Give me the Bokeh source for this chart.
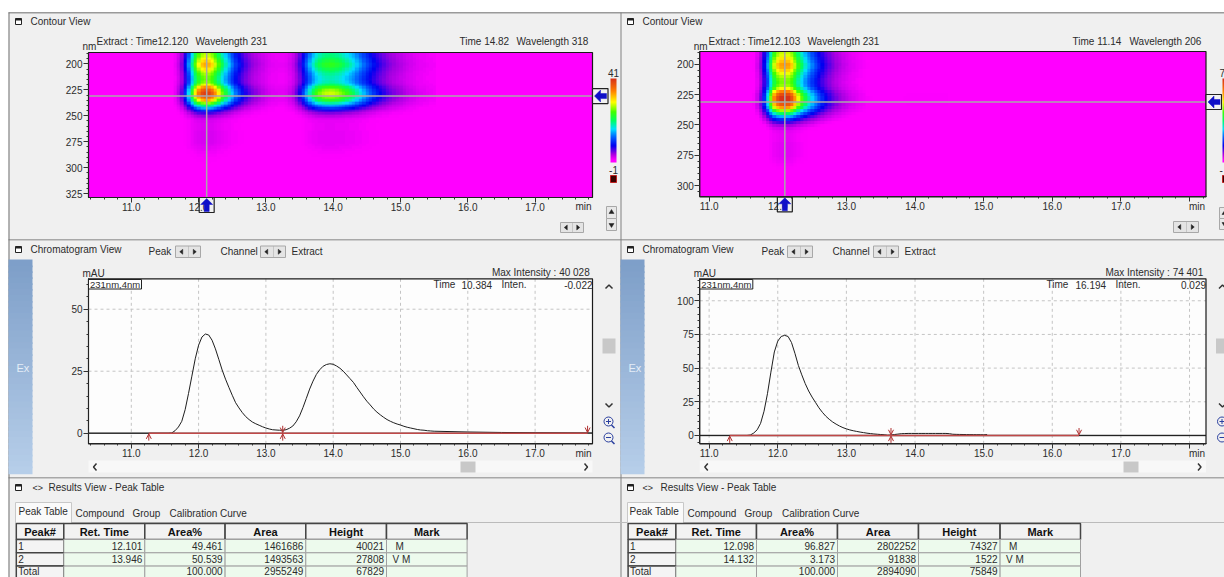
import numpy as np
from bokeh.embed import file_html
from bokeh.resources import INLINE
from bokeh.models import (Arrow, ColorBar, FixedTicker, LinearAxis, LinearColorMapper,
                          NumeralTickFormatter, OpenHead, Range1d)
from bokeh.plotting import figure
from bokeh.core.properties import value

# ---------- data ----------
time_start = 11.55
time_step = 0.05
left_chrom = [0.0, 0.1, 1.0, 2.5, 4.8, 9.5, 16, 23, 30, 35.5, 38.8, 40, 39.6, 37.5, 34, 29.8, 25.5, 21.8,
              18.5, 15.3, 12.3, 10.2, 8.3, 6.7, 5.5, 4.5, 3.8, 3.2, 2.6, 2.1, 1.7, 1.4, 1.3, 1.2, 1.2, 1.4,
              2.0, 2.9, 4.6, 7, 10.3, 14, 17.8, 21, 23.7, 25.6, 27, 27.7, 28, 27.8, 27.1, 26.2, 25, 23.5,
              22, 20.5, 18.5, 16.6, 14.7, 12.9, 11.4, 9.8, 8.5, 7.4, 6.4, 5.5, 4.8, 4.2, 3.7, 3.3, 2.8, 2.4,
              2.1, 1.8, 1.5, 1.3, 1.2, 1.0, 0.9, 0.8]
left_tail_t = [16.0, 16.5, 17.0, 17.85]
left_tail_v = [0.5, 0.3, 0.2, 0.1]
right_chrom = [0, 0.3, 1.8, 4.2, 9, 18, 31, 47, 62, 70, 73.5, 74.3, 73.5, 69, 61, 52, 45, 38.5, 33, 28.5,
               24.5, 20.5, 17.2, 14.3, 12, 10, 8.4, 7, 5.8, 4.9, 4.1, 3.5, 3, 2.5, 2.1, 1.7, 1.4, 1.1, 0.9,
               0.7, 0.5, 0.2, 0.3, 0.7, 1.0, 1.3, 1.4, 1.5, 1.5, 1.5, 1.5, 1.5, 1.5, 1.5, 1.5, 1.5, 1.5, 1.5,
               1.5, 1.3, 0.9, 0.8, 0.75, 0.7, 0.65, 0.6, 0.6, 0.55, 0.55, 0.5, 0.5]
right_tail_t = [15.01, 18.24]
right_tail_v = [0.0, 0.0]
wave_start = 187.5
wave_step = 2.5
spectrum = [0.66, 0.68, 0.7, 0.74, 0.78, 0.82, 0.81, 0.76, 0.71, 0.67, 0.64, 0.63, 0.65, 0.72, 0.85, 0.95, 1, 1,
            0.93, 0.82, 0.66, 0.5, 0.36, 0.24, 0.15, 0.09, 0.055, 0.04, 0.035, 0.035, 0.035, 0.04, 0.04,
            0.04, 0.04, 0.04, 0.035, 0.03, 0.025, 0.02, 0.015, 0.012, 0.01, 0.008,
            0, 0, 0, 0, 0, 0, 0, 0, 0, 0, 0, 0, 0]

x_major = [11, 12, 13, 14, 15, 16, 17, 18]
x_minor = [round(10 + i * 0.2, 1) for i in range(46)]
wave_major = [200, 225, 250, 275, 300, 325]
wave_minor = list(range(190, 331, 5))
left_y_major = [0, 25, 50]
right_y_major = [0, 25, 50, 75, 100]
intens_minor = list(range(-5, 120, 5))

table_headers = ["Peak#", "Ret. Time", "Area%", "Area", "Height", "Mark"]
left_rows = [["1", "12.101", "49.461", "1461686", "40021", "M"],
             ["2", "13.946", "50.539", "1493563", "27808", "V M"],
             ["Total", "", "100.000", "2955249", "67829", ""]]
right_rows = [["1", "12.098", "96.827", "2802252", "74327", "M"],
              ["2", "14.132", "3.173", "91838", "1522", "V M"],
              ["Total", "", "100.000", "2894090", "75849", ""]]
tabs = ["Peak Table", "Compound", "Group", "Calibration Curve"]

# ---------- styles ----------
W, H = 1224, 577
FONT = "Liberation Sans"
BG = "#f0f0f0"
TXT = "#2c2c2c"
stops_pos = [0, 0.03, 0.1, 0.2, 0.3, 0.4, 0.5, 0.6, 0.72, 0.85, 1.0]
stops_hex = ["#ff00ff", "#ff00ff", "#a000e0", "#0000f0", "#0060ff", "#00e0ff", "#00ff60", "#40ff00",
             "#ffff00", "#ff8000", "#d83018"]
rgb = np.array([[int(h[i:i + 2], 16) for i in (1, 3, 5)] for h in stops_hex])
palette = ["#%02x%02x%02x" % tuple(int(round(np.interp(v, stops_pos, rgb[:, c]))) for c in range(3))
           for v in np.linspace(0, 1, 256)]

p = figure(width=W, height=H, x_range=Range1d(0, W), y_range=Range1d(H, 0), output_backend="svg",
           toolbar_location=None, min_border=0, x_axis_location=None, y_axis_location=None,
           background_fill_color="#ffffff", border_fill_color="#ffffff", outline_line_color=None)
p.xgrid.visible = False
p.ygrid.visible = False


def rect(l, t, r, b, fill=None, line=None, width=1, level="glyph"):
    p.quad(left=[l], right=[r], top=[t], bottom=[b], fill_color=fill, fill_alpha=1 if fill else 0,
           line_color=line, line_alpha=1 if line else 0, line_width=width, level=level)


def poly(pts, fill, level="glyph"):
    p.patch([a for a, _ in pts], [b for _, b in pts], fill_color=fill, line_color=fill, line_width=0.5, level=level)


def stroke(pts, color="#333333", width=1.5):
    p.line([a for a, _ in pts], [b for _, b in pts], line_color=color, line_width=width)


def put(x, y, s, size=10, align="left", color=TXT, bold=False):
    p.text([x], [y], text=[s], text_font=value(FONT), text_font_size=f"{size}px", text_align=align,
           text_baseline="middle", text_color=color, text_font_style="bold" if bold else "normal")


def icon(x, y):
    rect(x, y, x + 6, y + 6, fill="#ffffff", line="#222222")
    rect(x, y, x + 6, y + 2, fill="#222222")


def stepper(l, t, r, b):
    mid = (l + r) / 2
    rect(l, t, r, b, fill="#e4e4e4", line="#a8a8a8")
    rect(mid, t, mid + 0.5, b, fill="#a8a8a8")
    cy = (t + b) / 2
    q = (r - l) / 4
    poly([(l + q - 2, cy), (l + q + 1, cy - 2.5), (l + q + 1, cy + 2.5)], "#222222")
    poly([(r - q + 2, cy), (r - q - 1, cy - 2.5), (r - q - 1, cy + 2.5)], "#222222")


def vstepper(l, t, r, b):
    rect(l, t, r, (t + b) / 2, fill="#e8e8e8", line="#a8a8a8")
    rect(l, (t + b) / 2, r, b, fill="#e8e8e8", line="#a8a8a8")
    cx = (l + r) / 2
    poly([(cx, t + 3), (cx - 2.5, t + 7), (cx + 2.5, t + 7)], "#222222")
    poly([(cx, b - 3), (cx - 2.5, b - 7), (cx + 2.5, b - 7)], "#222222")


def add_ranges(name, fl, fr, ft, fb, xr, yr):
    sx = (xr[1] - xr[0]) / (fr - fl)
    sy = (yr[1] - yr[0]) / (fb - ft)
    p.extra_x_ranges[name] = Range1d(xr[0] - fl * sx, xr[0] + (W - fl) * sx)
    p.extra_y_ranges[name] = Range1d(yr[0] + (H - ft) * sy, yr[0] - ft * sy)


def add_axes(name, xr, yr, y_major, y_minor):
    ylo, yhi = sorted(yr)
    xa = LinearAxis(ticker=FixedTicker(ticks=[t for t in x_major if xr[0] <= t <= xr[1]],
                                       minor_ticks=[t for t in x_minor if xr[0] <= t <= xr[1]]),
                    formatter=NumeralTickFormatter(format="0.0"), x_range_name=name, y_range_name=name,
                    fixed_location=yr[1], bounds=tuple(xr))
    xa.major_label_overrides = {18: ""}
    ya = LinearAxis(ticker=FixedTicker(ticks=[t for t in y_major if ylo <= t <= yhi],
                                       minor_ticks=[t for t in y_minor if ylo <= t <= yhi]),
                    formatter=NumeralTickFormatter(format="0"), x_range_name=name, y_range_name=name,
                    fixed_location=xr[0], bounds=(ylo, yhi))
    for a in (xa, ya):
        a.major_label_text_font = FONT
        a.major_label_text_font_size = "10px"
        a.major_label_text_color = TXT
        a.major_tick_in = 0
        a.minor_tick_in = 0
        a.major_tick_out = 5
        a.minor_tick_out = 2
        a.axis_line_color = "#222222"
        a.major_tick_line_color = "#333333"
        a.minor_tick_line_color = "#333333"
    xa.major_label_standoff = 0
    ya.major_label_standoff = 1
    p.add_layout(xa, "below")
    p.add_layout(ya, "left")


def contour(name, ox, fl, ft, fr, fb, xr, yr, chrom, high, texts, cross_t, cross_w, bar, bar_labels):
    add_ranges(name, fl, fr, ft, fb, xr, yr)
    kw = dict(x_range_name=name, y_range_name=name)
    rect(fl, ft, fr, fb, fill="#ff00ff")
    mapper = LinearColorMapper(palette=palette, low=-1, high=high)
    grid = np.outer(np.array(spectrum), np.array(chrom))
    p.image(image=[grid], x=time_start - time_step / 2, y=wave_start - wave_step / 2,
            dw=len(chrom) * time_step, dh=len(spectrum) * wave_step, color_mapper=mapper, level="glyph", **kw)
    # keep the image inside its plot area
    rect(fl, ft - 6, fr, ft, fill=BG)
    rect(fl, fb, fr, fb + 41, fill=BG)
    p.line([cross_t, cross_t], [yr[0], yr[1]], line_color="#a8a8a8", line_width=1.5, **kw)
    p.line([xr[0], xr[1]], [cross_w, cross_w], line_color="#a8a8a8", line_width=1.5, **kw)
    rect(fl, ft, fr, fb, line="#1a1a1a", width=1.2)
    add_axes(name, xr, yr, wave_major, wave_minor)
    icon(ox + 7, 18)
    put(ox + 22, 21, "Contour View")
    put(fl - 6, 46, "nm")
    for x, t in texts:
        put(x, 41, t)
    put(fr - 1, 206, "min", align="right")
    p.add_layout(ColorBar(color_mapper=mapper, location=(bar[0], H - 162), width=bar[1], height=84, padding=0,
                          margin=0, border_line_color=None, bar_line_color=None, background_fill_alpha=0,
                          major_tick_line_color=None, minor_tick_line_color=None, label_standoff=0,
                          ticker=FixedTicker(ticks=[])))
    put(bar[2], 72, bar_labels[0], align=bar[3])
    put(bar[2], 169, bar_labels[1], align=bar[3])
    rect(bar[0], 175, bar[0] + bar[1], 182, fill="#3a0000", line="#c02020")
    sy = ft + (cross_w - yr[0]) / (yr[1] - yr[0]) * (fb - ft)
    sx = fl + (cross_t - xr[0]) / (xr[1] - xr[0]) * (fr - fl)
    rect(fr, sy - 7.5, fr + 15.5, sy + 7.5, fill="#f2f2f2", line="#222222", width=1.2)
    poly([(fr + 2, sy), (fr + 8, sy - 6), (fr + 8, sy - 2.5), (fr + 14, sy - 2.5), (fr + 14, sy + 2.5),
          (fr + 8, sy + 2.5), (fr + 8, sy + 6)], "#1010c8")
    rect(sx - 7.5, fb, sx + 7.5, fb + 15, line="#222222", width=1.2, level="annotation")
    poly([(sx, fb + 1), (sx + 6, fb + 7), (sx + 2.5, fb + 7), (sx + 2.5, fb + 14), (sx - 2.5, fb + 14),
          (sx - 2.5, fb + 7), (sx - 6, fb + 7)], "#1010c8", level="annotation")


def chromatogram(name, ox, fl, ft, fr, fb, xr, yr, chrom, tail_t, tail_v, y_major, heads, steps, info, red, arrows,
                 thumb):
    add_ranges(name, fl, fr, ft, fb, xr, yr)
    kw = dict(x_range_name=name, y_range_name=name)
    # side strip
    top_rgb, bot_rgb = np.array([0x7e, 0x9f, 0xc9]), np.array([0xb6, 0xce, 0xe9])
    bands = 36
    for i in range(bands):
        c = top_rgb + (bot_rgb - top_rgb) * i / (bands - 1)
        s = "#%02x%02x%02x" % tuple(int(v) for v in c)
        rect(ox, 259 + i * 213 / bands, ox + 24, 259 + (i + 1.3) * 213 / bands, fill=s)
    put(ox + 8, 367, "Ex", 11, color="#e4edf7")
    icon(ox + 7, 246)
    put(ox + 22, 249, "Chromatogram View")
    for x, t in heads:
        put(x, 250.5, t)
    for x in steps:
        stepper(x, 245.5, x + 25, 257)
    # plot area
    rect(fl, ft, fr, fb, fill="#fdfdfd")
    for v in x_major:
        if xr[0] < v < xr[1]:
            p.line([v, v], [yr[0], yr[1]], line_color="#c4c4c4", line_dash="3 3", line_width=1, **kw)
    for v in y_major[1:]:
        p.line([xr[0], xr[1]], [v, v], line_color="#c4c4c4", line_dash="3 3", line_width=1, **kw)
    times = [xr[0], time_start - time_step] + [time_start + i * time_step for i in range(len(chrom))] + tail_t
    vals = [0, 0] + list(chrom) + tail_v
    p.line([xr[0], xr[1]], [0, 0], line_color="#707070", line_width=1.6, **kw)
    p.line(times, vals, line_color="#1e1e1e", line_width=1, **kw)
    p.line(red, [0, 0], line_color="#c04848", line_width=1.6, **kw)
    ah = yr[0] - yr[1]
    for t, d in arrows:
        s = -1 if d == "up" else 1
        p.add_layout(Arrow(end=OpenHead(size=5, line_color="#b03030", line_width=1), line_color="#b03030",
                           line_width=1, x_start=t, x_end=t, y_start=s * ah * 0.045, y_end=s * ah * 0.004, **kw))
    rect(fl, ft, fr, fb, line="#1a1a1a", width=1.2)
    add_axes(name, xr, yr, y_major, intens_minor)
    put(fl - 6, 273, "mAU")
    rect(fl, 279, fl + 53, 288.5, fill="#ffffff", line="#222222")
    put(fl + 1.5, 284, "231nm,4nm", 9.5)
    put(fr, 272, info[0], align="right")
    put(info[1], 284, "Time")
    put(info[2], 284, info[3])
    put(info[4], 284, "Inten.")
    put(fr, 284, info[5], align="right")
    put(fr - 1, 453, "min", align="right")
    rect(fl, 460, fr, 472, fill="#f8f8f8")
    rect(thumb, 461, thumb + 15, 472, fill="#c8c8c8")
    stroke([(fl + 8, 463), (fl + 5, 466.5), (fl + 8, 470)])
    stroke([(fr - 8, 463), (fr - 5, 466.5), (fr - 8, 470)])
    sb = fr + 10
    stroke([(sb + 3, 288), (sb + 6.5, 284.5), (sb + 10, 288)])
    stroke([(sb + 3, 403), (sb + 6.5, 406.5), (sb + 10, 403)])
    rect(sb, 338, sb + 13, 353, fill="#c8c8c8")
    for cy in (421, 437):
        p.scatter([sb + 6], [cy], size=9, marker="circle", fill_color="#f0f0f0", line_color="#2a3f9f", line_width=1)
        stroke([(sb + 3.5, cy), (sb + 8.5, cy)], "#2a3f9f", 1)
        stroke([(sb + 9, cy + 3.5), (sb + 12, cy + 6.5)], "#2a3f9f", 1.5)
    stroke([(sb + 6, 418.5), (sb + 6, 423.5)], "#2a3f9f", 1)


def results(ox, cols, rows_, tab_x, title_x, angle_x):
    yrow = [539, 552.3, 565.6, 579]
    yhead = 523
    icon(ox + 7, 484)
    put(angle_x, 487, "<>", 9)
    put(title_x, 487, "Results View - Peak Table")
    rect(ox + 7, 502, tab_x[1] - 4, 523, fill="#fafafa", line="#c8c8c8")
    stroke([(tab_x[1] - 4, 522), (W, 522)], "#bbbbbb", 1)
    for i, (x, t) in enumerate(zip(tab_x, tabs)):
        put(x, 511 if i == 0 else 513, t)
    p.quad(left=cols[:-1], right=cols[1:], top=[yhead] * 6, bottom=[yrow[0]] * 6, fill_color="#f2f2f2",
           line_color="#444444", line_width=1.5)
    for i, hd in enumerate(table_headers):
        put((cols[i] + cols[i + 1]) / 2, (yhead + yrow[0]) / 2, hd, 11, "center", "#111111", True)
    for r, rw in enumerate(rows_):
        t, b = yrow[r], yrow[r + 1]
        rect(cols[0], t, cols[1], b, fill="#f4f4f4", line="#444444", width=1.5)
        p.quad(left=cols[1:-1], right=cols[2:], top=[t] * 5, bottom=[b] * 5, fill_color="#edfaed",
               line_color="#a0a0a0", line_width=1)
        ym = min((t + b) / 2, 570.5)
        for i, s in enumerate(rw):
            if not s:
                continue
            if i == 0:
                put(cols[0] + 2, ym, s)
            elif i == 5:
                put(cols[5] + (9 if s == "M" else 6), ym, s)
            else:
                put(cols[i + 1] - 2.5, ym, s, align="right")


# ---------- panel chrome ----------
rect(8, 12, W, H, fill=BG)
rect(8, 11.5, W, 13, fill="#9a9a9a")
for y in (238.5, 476.5):
    rect(8, y, W, y + 1.5, fill="#a8a8a8")
rect(8, 12, 9, H, fill="#707070")
rect(620, 12, 621, H, fill="#808080")

contour("c1", 8, 88, 52, 592, 197, (10.364, 17.853), (189.1, 328.6), left_chrom, 41,
        [(96, "Extract : Time12.120"), (195, "Wavelength   231"), (459, "Time 14.82"), (516, "Wavelength   318")],
        12.12, 231, (610, 6, 613, "center"), ("41", "-1"))
stepper(560, 222, 583, 232)
vstepper(606, 206, 616, 230)
contour("c2", 620, 699.3, 51, 1205.5, 196.3, (10.864, 18.24), (189.3, 309.3), right_chrom, 74,
        [(708, "Extract : Time12.103"), (807, "Wavelength   231"), (1072, "Time 11.14"),
         (1129, "Wavelength   206")],
        12.103, 231, (1222, 2, 1219, "left"), ("7", "-"))
stepper(1173, 221, 1198, 232)
vstepper(1219, 207, 1229, 229)

chromatogram("g1", 8, 88, 278.3, 592, 443.3, (10.364, 17.853), (62.26, -4.27), left_chrom, left_tail_t, left_tail_v,
             left_y_major, [(148, "Peak"), (220, "Channel"), (291, "Extract")], (175, 260),
             ("Max Intensity :  40 028", 433, 461, "10.384", 501, "-0.022"),
             [11.26, 17.78], [(11.26, "up"), (13.25, "up"), (13.25, "down"), (17.78, "down")], 460)
chromatogram("g2", 620, 699.3, 278.3, 1205.5, 443.3, (10.864, 18.24), (116.3, -6.2), right_chrom, right_tail_t,
             right_tail_v, right_y_major, [(761, "Peak"), (832, "Channel"), (904, "Extract")], (787, 873),
             ("Max Intensity :  74 401", 1046, 1075, "16.194", 1115, "0.029"),
             [11.3, 16.39], [(11.3, "up"), (13.65, "up"), (13.65, "down"), (16.39, "down")], 1123)

results(8, [15.8, 63.3, 144.3, 224.6, 305.3, 386, 466.6], left_rows, [18, 75, 132, 169], 48, 32)
results(620, [627.6, 675.4, 756, 837, 918, 999.6, 1080], right_rows, [629, 687, 744, 781.5], 660, 642)

open("out.html", "w").write(file_html(p, INLINE))
